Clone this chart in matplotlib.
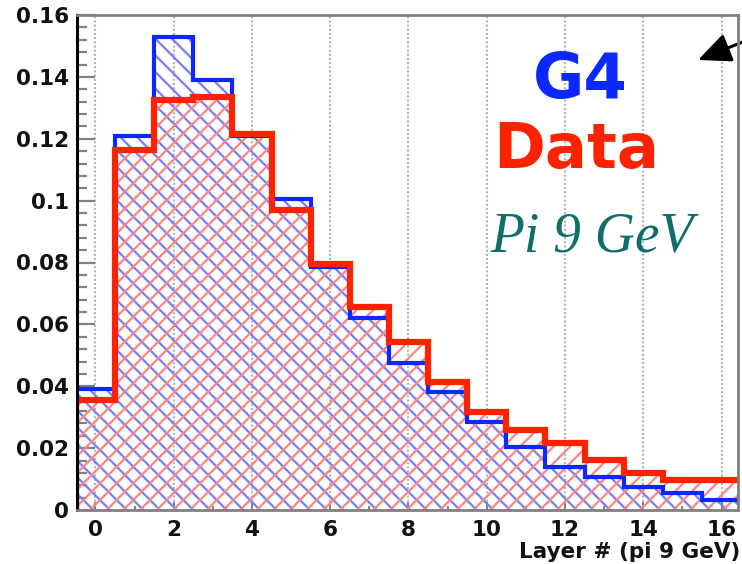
import numpy as np
import matplotlib
matplotlib.use("Agg")
import matplotlib.pyplot as plt
from matplotlib.ticker import MultipleLocator, FuncFormatter

# Layer index (bin centres) and per-layer fractions
layers = list(range(17))
g4_frac = [0.039, 0.121, 0.153, 0.139, 0.121, 0.1005, 0.0785, 0.062, 0.0475,
           0.038, 0.0285, 0.0205, 0.014, 0.0107, 0.0075, 0.0055, 0.0033]
data_frac = [0.0356, 0.1165, 0.1325, 0.1335, 0.1215, 0.097, 0.0795, 0.0655,
             0.0542, 0.0415, 0.0318, 0.026, 0.0218, 0.0163, 0.012, 0.0097, 0.0097]
y_ticks = [0, 0.02, 0.04, 0.06, 0.08, 0.1, 0.12, 0.14, 0.16]
x_ticks = [0, 2, 4, 6, 8, 10, 12, 14, 16]

edges = np.arange(len(layers) + 1) - 0.5

BLUE = "#0a28ff"
RED = "#ff2200"
BOLD = dict(family="DejaVu Sans", weight="bold")

plt.rcParams["hatch.linewidth"] = 1.6

fig = plt.figure(figsize=(7.42, 5.64), dpi=100)
ax = fig.add_axes([77 / 742, 54 / 564, (738 - 77) / 742, (510 - 15) / 564])

# vertical dotted grid
for xv in x_ticks:
    ax.axvline(xv, color="#b4b4b4", lw=1.5, ls=(0, (1, 1)), zorder=0.5)

# hatched fills: G4 falling diagonals, data rising diagonals
ax.stairs(g4_frac, edges, fill=True, facecolor="none", edgecolor="#7a7cff",
          hatch="\\\\", linewidth=0, zorder=2)
ax.stairs(data_frac, edges, fill=True, facecolor="none", edgecolor="#ff8383",
          hatch="//", linewidth=0, zorder=2.1)

# outlines
ax.stairs(g4_frac, edges, color=BLUE, linewidth=3.0, zorder=3)
ax.stairs(data_frac, edges, color=RED, linewidth=4.5, zorder=4)

ax.set_xlim(-0.47, 16.42)
ax.set_ylim(0, 0.16)

ax.set_yticks(y_ticks)
ax.yaxis.set_minor_locator(MultipleLocator(0.004))
ax.yaxis.set_major_formatter(FuncFormatter(lambda v, p: "%g" % v))
ax.set_xticks(x_ticks)
ax.xaxis.set_minor_locator(MultipleLocator(1))

ax.tick_params(axis="y", which="major", direction="in", length=13, width=1.6,
               color="#808080", pad=6, labelsize=15.5, labelcolor="#111111")
ax.tick_params(axis="y", which="minor", direction="in", length=7, width=1.6,
               color="#808080")
ax.tick_params(axis="x", which="major", direction="in", length=6, width=1.4,
               color="#808080", pad=7, labelsize=15.5, labelcolor="#111111")
ax.tick_params(axis="x", which="minor", direction="in", length=3, width=1.4,
               color="#808080")
for lab in ax.get_xticklabels() + ax.get_yticklabels():
    lab.set_fontweight("bold")

for side in ["top", "right", "bottom"]:
    ax.spines[side].set_color("#808080")
    ax.spines[side].set_linewidth(2)
ax.spines["left"].set_color("black")
ax.spines["left"].set_linewidth(2.2)
for s in ax.spines.values():
    s.set_zorder(5)

# axis title at bottom right
fig.text(740 / 742, 1 - 558 / 564, "Layer # (pi 9 GeV)", ha="right",
         va="baseline", fontsize=15.5, color="#111111", **BOLD)

# legend-style labels
fig.text(580 / 742, 1 - 98 / 564, "G4", ha="center", va="baseline",
         fontsize=45, color=BLUE, **BOLD)
fig.text(576 / 742, 1 - 168 / 564, "Data", ha="center", va="baseline",
         fontsize=45, color=RED, **BOLD)
fig.text(592 / 742, 1 - 252 / 564, "Pi 9 GeV", ha="center", va="baseline",
         fontsize=40, color="#0e6e6a", family="Liberation Serif",
         style="italic")

# pointer arrow in the corner
ax.annotate("", xy=(698, 564 - 60), xycoords="figure pixels",
            xytext=(770, 564 - 31), textcoords="figure pixels",
            annotation_clip=False,
            arrowprops=dict(arrowstyle="-|>,head_length=1.0,head_width=0.45",
                            lw=2.2, color="black", mutation_scale=20,
                            shrinkA=0, shrinkB=0))

fig.savefig("out.png", dpi=100)
